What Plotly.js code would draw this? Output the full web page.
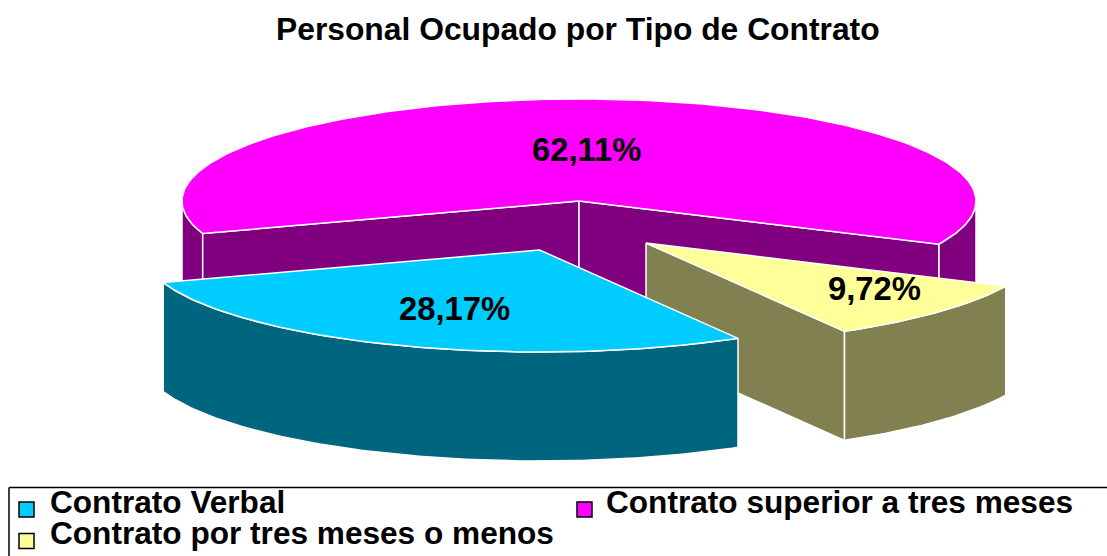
<!DOCTYPE html>
<html>
<head>
<meta charset="utf-8">
<script src="https://cdn.plot.ly/plotly-3.0.1.min.js"></script>
<style>html,body{margin:0;padding:0;background:#fff}#chart{width:1107px;height:556px}</style>
</head>
<body>
<div id="chart"></div>
<script>
const categories = ["Contrato Verbal", "Contrato superior a tres meses", "Contrato por tres meses o menos"];
const values = [28.17, 62.11, 9.72];
const topColors = ["#00CCFF", "#FF00FF", "#FFFF99"];
const sideColors = ["#006680", "#800080", "#808050"];
const chartTitle = "Personal Ocupado por Tipo de Contrato";

// Layout of the tilted, exploded pie (in axis units = pixels of the page)
const startAngle = 150, rx = 397, ry = 102, depth = 109;
const centers = [[539.5, 250], [579, 201], [646, 243]];
const labelPos = [[454, 308], [586, 149], [874, 288]];
const legendPos = [[26.5, 509.5, 50, 502], [584.5, 509.5, 606, 502], [26.5, 541, 50, 533]];

const rad = d => d * Math.PI / 180;
const total = values.reduce((a, b) => a + b, 0);
let acc = startAngle;
const slices = values.map((v, i) => {
  const a0 = acc, a1 = acc + v / total * 360;
  acc = a1;
  return {i, a0, a1, c: centers[i]};
});
const pt = (s, t, dz) => [s.c[0] + rx * Math.sin(rad(t)), s.c[1] - ry * Math.cos(rad(t)) + (dz || 0)];
function arc(s, from, to, dz) {
  const n = Math.max(2, Math.ceil(Math.abs(to - from)));
  const out = [];
  for (let k = 0; k <= n; k++) out.push(pt(s, from + (to - from) * k / n, dz));
  return out;
}
function poly(points, color, name) {
  const closed = points.concat([points[0]]);
  return {
    type: "scatter", mode: "lines", fill: "toself", fillcolor: color,
    x: closed.map(p => p[0]), y: closed.map(p => p[1]),
    line: {color: "#FFFFFF", width: 1.5},
    name: name, showlegend: false, hoverinfo: "name"
  };
}
function topFace(s) {
  return poly([s.c].concat(arc(s, s.a0, s.a1)), topColors[s.i], categories[s.i]);
}
function wall(s, from, to) {
  return poly(arc(s, from, to).concat(arc(s, to, from, depth)), sideColors[s.i], categories[s.i]);
}
function radial(s, t) {
  const p = pt(s, t);
  return poly([s.c, p, [p[0], p[1] + depth], [s.c[0], s.c[1] + depth]], sideColors[s.i], categories[s.i]);
}

const [verbal, superior, corto] = slices;
const traces = [
  wall(superior, superior.a0, 270),
  wall(superior, 450, superior.a1),
  radial(superior, superior.a0),
  radial(superior, superior.a1),
  topFace(superior),
  radial(corto, corto.a1),
  wall(corto, corto.a0, corto.a1),
  topFace(corto),
  wall(verbal, verbal.a0, verbal.a1),
  topFace(verbal)
];

const annotations = [{
  text: "<b>" + chartTitle + "</b>", x: 578, y: 29, xref: "x", yref: "y",
  showarrow: false, xanchor: "center", yanchor: "middle",
  font: {family: "Liberation Sans, Arial, sans-serif", size: 31.8, color: "#000"}
}];
values.forEach((v, i) => {
  annotations.push({
    text: "<b>" + v.toFixed(2).replace(".", ",") + "%</b>",
    x: labelPos[i][0], y: labelPos[i][1], xref: "x", yref: "y",
    showarrow: false, xanchor: "center", yanchor: "middle",
    font: {family: "Liberation Sans, Arial, sans-serif", size: 32.8, color: "#000"}
  });
  annotations.push({
    text: "<b>" + categories[i] + "</b>",
    x: legendPos[i][2], y: legendPos[i][3], xref: "x", yref: "y",
    showarrow: false, xanchor: "left", yanchor: "middle", xshift: -2.5,
    font: {family: "Liberation Sans, Arial, sans-serif", size: 31.6, color: "#000"}
  });
});

traces.push({
  type: "scatter", mode: "markers",
  x: legendPos.map(p => p[0]), y: legendPos.map(p => p[1]),
  marker: {symbol: "square", size: 15, color: topColors, line: {color: "#000", width: 1.5}},
  showlegend: false, hoverinfo: "skip"
});

const layout = {
  width: 1107, height: 556,
  margin: {l: 0, r: 0, t: 0, b: 0},
  paper_bgcolor: "#fff", plot_bgcolor: "#fff",
  showlegend: false,
  xaxis: {range: [0, 1107], visible: false, fixedrange: true},
  yaxis: {range: [556, 0], visible: false, fixedrange: true},
  annotations: annotations,
  shapes: [
    {type: "line", xref: "x", yref: "y", x0: 9, x1: 1107, y0: 487.5, y1: 487.5, line: {color: "#000", width: 1.5}},
    {type: "line", xref: "x", yref: "y", x0: 9, x1: 9, y0: 487.5, y1: 556, line: {color: "#000", width: 1.5}}
  ]
};
Plotly.newPlot("chart", traces, layout, {displayModeBar: false, staticPlot: true});
</script>
</body>
</html>
